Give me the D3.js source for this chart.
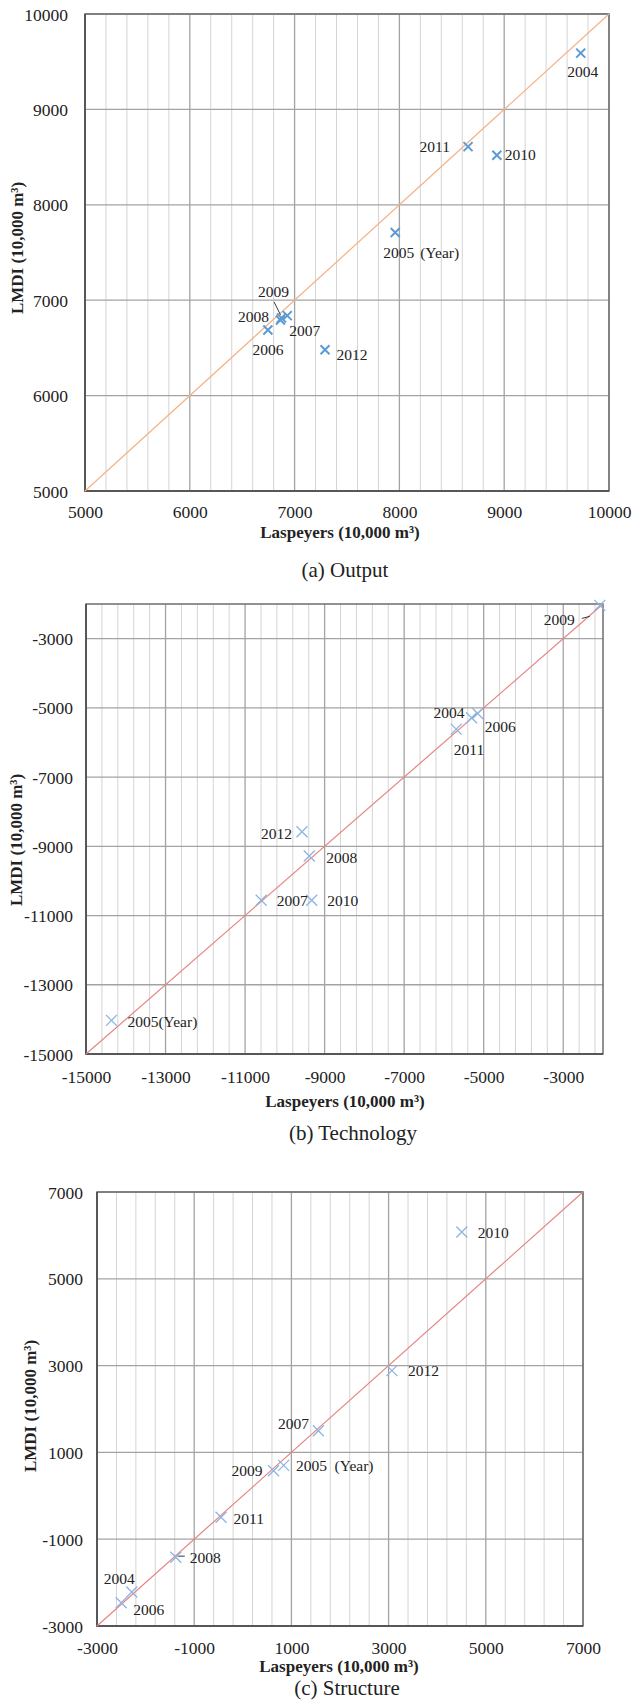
<!DOCTYPE html>
<html>
<head>
<meta charset="utf-8">
<script src="https://cdn.jsdelivr.net/npm/d3@7"></script>
<style>
  body { margin: 0; background: #fff; }
  svg { display: block; font-family: 'Liberation Serif', 'Times New Roman', serif; }
</style>
</head>
<body>
<div id="chart"></div>
<script>
  const YEARS = ['2004', '2005', '2006', '2007', '2008', '2009', '2010', '2011', '2012'];

  // (a) Output
  const OUTPUT_LASPEYRES = [9730, 7960, 6745, 6930, 6865, 6875, 8930, 8655, 7290];
  const OUTPUT_LMDI = [9590, 7710, 6688, 6838, 6792, 6815, 8520, 8610, 6480];
  const OUTPUT_DOMAIN = [5000, 10000];
  const OUTPUT_TICKS = [5000, 6000, 7000, 8000, 9000, 10000];

  // (b) Technology
  const TECH_LASPEYRES = [-5305, -14360, -5152, -10594, -9386, -2080, -9325, -5690, -9569];
  const TECH_LMDI = [-5288, -14029, -5163, -10558, -9279, -2040, -10558, -5615, -8577];
  const TECH_DOMAIN = [-15000, -2000];
  const TECH_TICKS = [-15000, -13000, -11000, -9000, -7000, -5000, -3000];

  // (c) Structure
  const STRUCT_LASPEYRES = [-2501, 840, -2285, 1555, -1379, 633, 4506, -448, 3068];
  const STRUCT_LMDI = [-2464, 701, -2218, 1498, -1414, 579, 6077, -494, 2885];
  const STRUCT_DOMAIN = [-3000, 7000];
  const STRUCT_TICKS = [-3000, -1000, 1000, 3000, 5000, 7000];

  const CAPTIONS = ['(a) Output', '(b) Technology', '(c) Structure'];
  const X_TITLE = 'Laspeyers (10,000 m³)';
  const Y_TITLE = 'LMDI (10,000 m³)';
  const YEAR_SUFFIX = '(Year)';

  const W = 634, H = 1703;
  const TEXT = '#222';

  // label placement: [dx, dy, anchor, suffixDx] relative to the marker
  // suffixDx 0 means the suffix is glued to the year in the same text
  const PANELS = [
    {
      las: OUTPUT_LASPEYRES, lmdi: OUTPUT_LMDI, domain: OUTPUT_DOMAIN, ticks: OUTPUT_TICKS, minor: 200,
      box: { left: 85, right: 609, top: 14, bottom: 491 },
      line: '#f4b183', marker: '#5b9bd5', markerR: 4.5, markerW: 2,
      tickFont: 17.5, yPad: 17, xPad: 21,
      yTitle: { x: 17, y: 248 }, xTitle: { x: 340, y: 532 }, caption: { x: 345, y: 570 },
      labels: {
        '2004': [2, 18.6, 'middle'],
        '2005': [-12, 20, 'start', 37],
        '2006': [0, 20, 'middle'],
        '2007': [2, 15, 'start'],
        '2008': [-11.5, -3.3, 'end'],
        '2009': [-8, -26, 'middle'],
        '2010': [8, -1, 'start'],
        '2011': [-18, 0, 'end'],
        '2012': [11.5, 5, 'start']
      },
      leaders: { '2009': [-7.5, -16, -1, -3] }
    },
    {
      las: TECH_LASPEYRES, lmdi: TECH_LMDI, domain: TECH_DOMAIN, ticks: TECH_TICKS, minor: 400,
      box: { left: 86, right: 603, top: 604, bottom: 1054 },
      line: '#e58585', marker: '#8db4e2', markerR: 5.5, markerW: 1.3,
      tickFont: 17.5, yPad: 13, xPad: 23,
      yTitle: { x: 16, y: 840 }, xTitle: { x: 345, y: 1101 }, caption: { x: 353, y: 1133 },
      labels: {
        '2004': [-7, -5.5, 'end'],
        '2005': [16, 1.3, 'start', 0],
        '2006': [7, 13, 'start'],
        '2007': [15.5, 0.5, 'start'],
        '2008': [17, 1.7, 'start'],
        '2009': [-25, 14, 'end'],
        '2010': [15.5, 0.5, 'start'],
        '2011': [-2.5, 20, 'start'],
        '2012': [-10, 1.6, 'end']
      },
      leaders: { '2009': [-18, 13, -10, 11] }
    },
    {
      las: STRUCT_LASPEYRES, lmdi: STRUCT_LMDI, domain: STRUCT_DOMAIN, ticks: STRUCT_TICKS, minor: 400,
      box: { left: 97, right: 583, top: 1192, bottom: 1626 },
      line: '#e58585', marker: '#8db4e2', markerR: 5.5, markerW: 1.3,
      tickFont: 17.5, yPad: 14, xPad: 22,
      yTitle: { x: 30, y: 1406 }, xTitle: { x: 339, y: 1666 }, caption: { x: 347, y: 1688 },
      labels: {
        '2004': [-2, -24, 'middle'],
        '2005': [12.5, 0, 'start', 38.5],
        '2006': [1.6, 18, 'start'],
        '2007': [-9.4, -7.5, 'end'],
        '2008': [14, 0.5, 'start'],
        '2009': [-11, 0, 'end'],
        '2010': [16, 0.7, 'start'],
        '2011': [12.5, 1, 'start'],
        '2012': [16, 0, 'start']
      },
      leaders: { '2008': [2, -1, 9, -1] }
    }
  ];

  const svg = d3.select('#chart').append('svg')
    .attr('width', W)
    .attr('height', H)
    .attr('viewBox', `0 0 ${W} ${H}`);

  svg.append('rect').attr('width', W).attr('height', H).attr('fill', '#fff');

  PANELS.forEach((p, i) => {
    const b = p.box;
    const x = d3.scaleLinear().domain(p.domain).range([b.left, b.right]);
    const y = d3.scaleLinear().domain(p.domain).range([b.bottom, b.top]);
    const g = svg.append('g');

    // Minor vertical gridlines
    const minorX = d3.range(p.domain[0], p.domain[1] + 1, p.minor)
      .filter(v => !p.ticks.includes(v));
    g.selectAll(null)
      .data(minorX)
      .enter()
      .append('line')
      .attr('x1', d => x(d)).attr('x2', d => x(d))
      .attr('y1', b.top).attr('y2', b.bottom)
      .attr('stroke', '#d4d4d4')
      .attr('stroke-width', 1);

    // Major gridlines
    g.selectAll(null)
      .data(p.ticks)
      .enter()
      .append('line')
      .attr('x1', d => x(d)).attr('x2', d => x(d))
      .attr('y1', b.top).attr('y2', b.bottom)
      .attr('stroke', '#a3a3a3')
      .attr('stroke-width', 1.3);

    g.selectAll(null)
      .data(p.ticks)
      .enter()
      .append('line')
      .attr('x1', b.left).attr('x2', b.right)
      .attr('y1', d => y(d)).attr('y2', d => y(d))
      .attr('stroke', '#a3a3a3')
      .attr('stroke-width', 1.3);

    // Frame
    g.append('rect')
      .attr('x', b.left).attr('y', b.top)
      .attr('width', b.right - b.left).attr('height', b.bottom - b.top)
      .attr('fill', 'none')
      .attr('stroke', '#6e6e6e')
      .attr('stroke-width', 1.5);
    g.append('path')
      .attr('d', `M${b.left},${b.top}V${b.bottom}H${b.right}`)
      .attr('fill', 'none')
      .attr('stroke', '#4a4a4a')
      .attr('stroke-width', 1.5);

    // Axes (labels only)
    const yAxis = g.append('g')
      .attr('transform', `translate(${b.left},0)`)
      .call(d3.axisLeft(y).tickValues(p.ticks).tickSize(0).tickPadding(p.yPad).tickFormat(d => String(d)));
    const xAxis = g.append('g')
      .attr('transform', `translate(0,${b.bottom})`)
      .call(d3.axisBottom(x).tickValues(p.ticks).tickSize(0).tickFormat(d => String(d)));
    [yAxis, xAxis].forEach(a => {
      a.select('.domain').remove();
      a.selectAll('text')
        .attr('fill', TEXT)
        .style('font-family', "'Liberation Serif', serif")
        .style('font-size', p.tickFont + 'px');
    });
    yAxis.selectAll('text').attr('dy', '0.35em');
    xAxis.selectAll('text').attr('y', p.xPad).attr('dy', '0.35em');

    // Perfect agreement diagonal
    g.append('line')
      .attr('x1', x(p.domain[0])).attr('y1', y(p.domain[0]))
      .attr('x2', x(p.domain[1])).attr('y2', y(p.domain[1]))
      .attr('stroke', p.line)
      .attr('stroke-width', 1.2);

    const points = YEARS.map((yr, k) => ({ year: yr, las: p.las[k], lmdi: p.lmdi[k] }));

    // Leader lines
    g.selectAll(null)
      .data(points.filter(d => p.leaders[d.year]))
      .enter()
      .append('line')
      .attr('x1', d => x(d.las) + p.leaders[d.year][0])
      .attr('y1', d => y(d.lmdi) + p.leaders[d.year][1])
      .attr('x2', d => x(d.las) + p.leaders[d.year][2])
      .attr('y2', d => y(d.lmdi) + p.leaders[d.year][3])
      .attr('stroke', '#3a3a3a')
      .attr('stroke-width', 1);

    // Markers
    const r = p.markerR;
    g.selectAll(null)
      .data(points)
      .enter()
      .append('path')
      .attr('d', d => {
        const cx = x(d.las), cy = y(d.lmdi);
        return `M${cx - r},${cy - r}L${cx + r},${cy + r}M${cx - r},${cy + r}L${cx + r},${cy - r}`;
      })
      .attr('fill', 'none')
      .attr('stroke', p.marker)
      .attr('stroke-width', p.markerW);

    // Year labels
    points.forEach(d => {
      const [dx, dy, anchor, sfx] = p.labels[d.year];
      const lx = x(d.las) + dx, ly = y(d.lmdi) + dy;
      g.append('text')
        .attr('x', lx).attr('y', ly).attr('dy', '0.35em')
        .attr('text-anchor', anchor)
        .attr('fill', TEXT)
        .style('font-size', '15.5px')
        .text(sfx === 0 ? d.year + YEAR_SUFFIX : d.year);
      if (sfx) {
        g.append('text')
          .attr('x', lx + sfx).attr('y', ly).attr('dy', '0.35em')
          .attr('fill', TEXT)
          .style('font-size', '15.5px')
          .text(YEAR_SUFFIX);
      }
    });

    // Titles
    g.append('text')
      .attr('x', p.xTitle.x).attr('y', p.xTitle.y).attr('dy', '0.35em')
      .attr('text-anchor', 'middle')
      .attr('fill', TEXT)
      .style('font-size', '17px')
      .style('font-weight', 'bold')
      .text(X_TITLE);

    g.append('text')
      .attr('transform', `translate(${p.yTitle.x},${p.yTitle.y}) rotate(-90)`)
      .attr('dy', '0.35em')
      .attr('text-anchor', 'middle')
      .attr('fill', TEXT)
      .style('font-size', '17px')
      .style('font-weight', 'bold')
      .text(Y_TITLE);

    g.append('text')
      .attr('x', p.caption.x).attr('y', p.caption.y).attr('dy', '0.35em')
      .attr('text-anchor', 'middle')
      .attr('fill', TEXT)
      .style('font-size', '21px')
      .text(CAPTIONS[i]);
  });
</script>
</body>
</html>
